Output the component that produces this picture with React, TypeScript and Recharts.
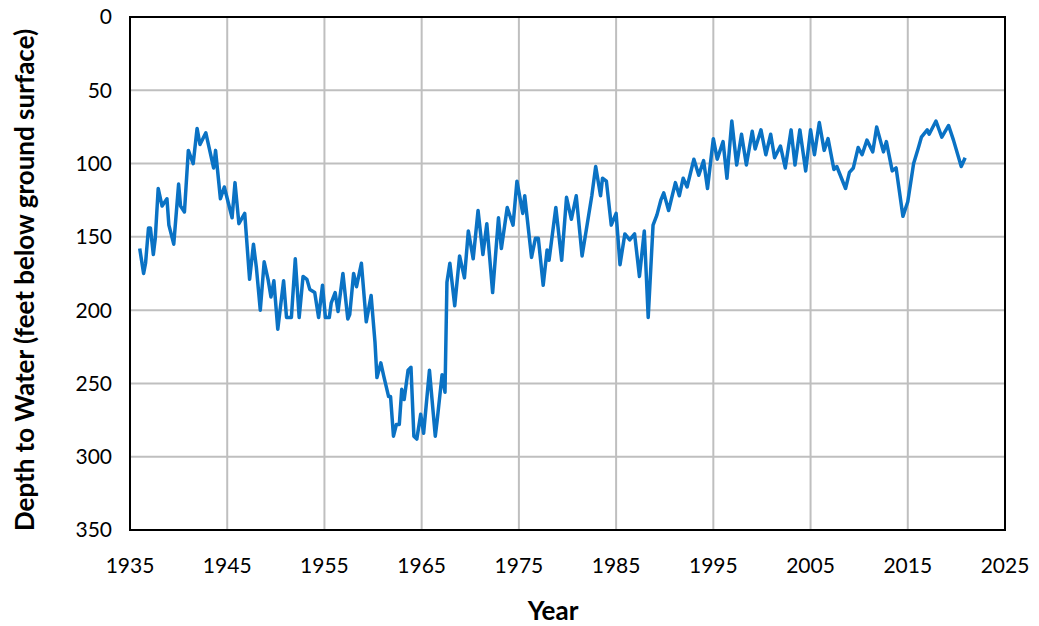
import React from 'react';
import {
  LineChart,
  Line,
  XAxis,
  YAxis,
  CartesianGrid,
  ReferenceArea,
} from 'recharts';

// measurement dates (decimal year) and depth to water in feet
const years: number[] = [
  1936.0, 1936.4, 1936.6, 1936.9, 1937.1, 1937.4, 1937.6, 1937.9, 1938.3, 1938.8,
  1939.0, 1939.5, 1940.0, 1940.2, 1940.6, 1941.0, 1941.5, 1941.9, 1942.2, 1942.8,
  1943.6, 1943.8, 1944.3, 1944.7, 1945.5, 1945.8, 1946.2, 1946.8, 1947.3, 1947.7,
  1948.0, 1948.4, 1948.8, 1949.2, 1949.5, 1949.8, 1950.2, 1950.8, 1951.1, 1951.6,
  1952.0, 1952.4, 1952.8, 1953.2, 1953.5, 1954.0, 1954.4, 1954.8, 1955.1, 1955.5,
  1955.7, 1956.1, 1956.4, 1956.9, 1957.4, 1957.6, 1958.0, 1958.3, 1958.8, 1959.3,
  1959.8, 1960.2, 1960.4, 1960.8, 1961.1, 1961.6, 1961.8, 1962.1, 1962.4, 1962.7,
  1962.95, 1963.2, 1963.6, 1963.9, 1964.2, 1964.5, 1964.9, 1965.2, 1965.8, 1966.4,
  1966.6, 1967.1, 1967.4, 1967.6, 1967.9, 1968.4, 1968.9, 1969.4, 1969.8, 1970.3,
  1970.8, 1971.3, 1971.7, 1972.3, 1972.9, 1973.2, 1973.8, 1974.4, 1974.8, 1975.4,
  1975.6, 1976.3, 1976.7, 1977.0, 1977.5, 1977.9, 1978.1, 1978.8, 1979.4, 1979.9,
  1980.4, 1980.9, 1981.5, 1982.5, 1982.9, 1983.4, 1983.6, 1984.0, 1984.5, 1985.0,
  1985.4, 1985.9, 1986.4, 1986.9, 1987.4, 1987.9, 1988.3, 1988.8, 1989.2, 1989.6,
  1989.9, 1990.4, 1991.1, 1991.5, 1991.9, 1992.3, 1993.0, 1993.5, 1994.0, 1994.4,
  1995.0, 1995.4, 1996.0, 1996.4, 1996.9, 1997.4, 1997.9, 1998.4, 1999.0, 1999.3,
  1999.9, 2000.4, 2000.9, 2001.3, 2001.9, 2002.4, 2003.0, 2003.4, 2003.9, 2004.5,
  2005.0, 2005.4, 2005.9, 2006.4, 2006.8, 2007.4, 2007.7, 2008.6, 2009.0, 2009.4,
  2009.9, 2010.3, 2010.8, 2011.4, 2011.8, 2012.5, 2012.8, 2013.4, 2013.8, 2014.5,
  2015.0, 2015.6, 2016.1, 2016.4, 2017.0, 2017.2, 2017.9, 2018.5, 2019.2, 2019.7,
  2020.5, 2020.9,
];

const depths: number[] = [
  158, 175, 168, 144, 144, 162, 151, 117, 129, 124,
  142, 155, 114, 129, 133, 91, 100, 76, 87, 79,
  103, 91, 124, 116, 137, 113, 141, 134, 179, 155,
  171, 200, 167, 179, 191, 180, 213, 180, 205, 205,
  165, 205, 177, 179, 186, 188, 205, 183, 205, 205,
  195, 188, 201, 175, 206, 203, 175, 184, 168, 208,
  190, 222, 246, 236, 245, 259, 259, 286, 278, 278,
  254, 261, 241, 239, 286, 288, 271, 284, 241, 286,
  275, 244, 256, 181, 168, 197, 163, 178, 146, 165,
  132, 162, 141, 188, 137, 158, 130, 142, 112, 134,
  122, 164, 151, 151, 183, 159, 166, 130, 166, 123,
  138, 122, 163, 122, 102, 122, 110, 112, 142, 134,
  169, 148, 152, 148, 177, 146, 205, 142, 135, 125,
  120, 132, 113, 122, 110, 116, 97, 108, 98, 117,
  83, 97, 85, 110, 71, 101, 80, 101, 78, 90,
  77, 94, 80, 96, 88, 103, 77, 101, 77, 105,
  77, 94, 72, 91, 83, 104, 102, 117, 106, 103,
  89, 94, 84, 92, 75, 92, 85, 105, 103, 136,
  126, 100, 89, 82, 77, 80, 71, 82, 74, 84,
  102, 96,
];

const xTicks: number[] = [1935, 1945, 1955, 1965, 1975, 1985, 1995, 2005, 2015, 2025];
const yTicks: number[] = [0, 50, 100, 150, 200, 250, 300, 350];

const data = years.map((year, i) => ({ year, depth: depths[i] }));

const FONT = 'Lato, "Open Sans", sans-serif';

export default function App() {
  return (
    <div style={{ position: 'absolute', left: 0, top: 0, width: 1039, height: 626, background: '#fff', fontFamily: FONT }}>
      <LineChart
        width={1039}
        height={626}
        data={data}
        margin={{ top: 17, right: 34, left: 60, bottom: 36 }}
      >
        <CartesianGrid stroke="#bfbfbf" strokeWidth={2} />
        <XAxis
          dataKey="year"
          type="number"
          domain={[1935, 2025]}
          ticks={xTicks}
          allowDataOverflow
          height={60}
          axisLine={{ stroke: '#000', strokeWidth: 2 }}
          tickLine={false}
          tickMargin={16}
          tick={{ fontSize: 21, fill: '#000', fontFamily: FONT, dy: 6 }}
          label={() => (
            <text x={553} y={620} textAnchor="middle" fontSize={26} fontWeight="bold" fill="#000" fontFamily={FONT}>
              Year
            </text>
          )}
        />
        <YAxis
          type="number"
          reversed
          domain={[0, 350]}
          ticks={yTicks}
          width={70}
          axisLine={{ stroke: '#000', strokeWidth: 2 }}
          tickLine={false}
          tickMargin={12}
          tick={{ fontSize: 21, fill: '#000', fontFamily: FONT }}
          label={() => (
            <text
              x={34}
              y={280}
              transform="rotate(-90 34 280)"
              textAnchor="middle"
              fontSize={26}
              fontWeight="bold"
              fill="#000"
              fontFamily={FONT}
            >
              Depth to Water (feet below ground surface)
            </text>
          )}
        />
        <ReferenceArea x1={1935} x2={2025} y1={0} y2={350} fill="none" stroke="#000" strokeWidth={2} ifOverflow="visible" />
        <Line
          type="linear"
          dataKey="depth"
          stroke="#0a72c4"
          strokeWidth={3.5}
          strokeLinejoin="round"
          dot={false}
          isAnimationActive={false}
        />
      </LineChart>
    </div>
  );
}
